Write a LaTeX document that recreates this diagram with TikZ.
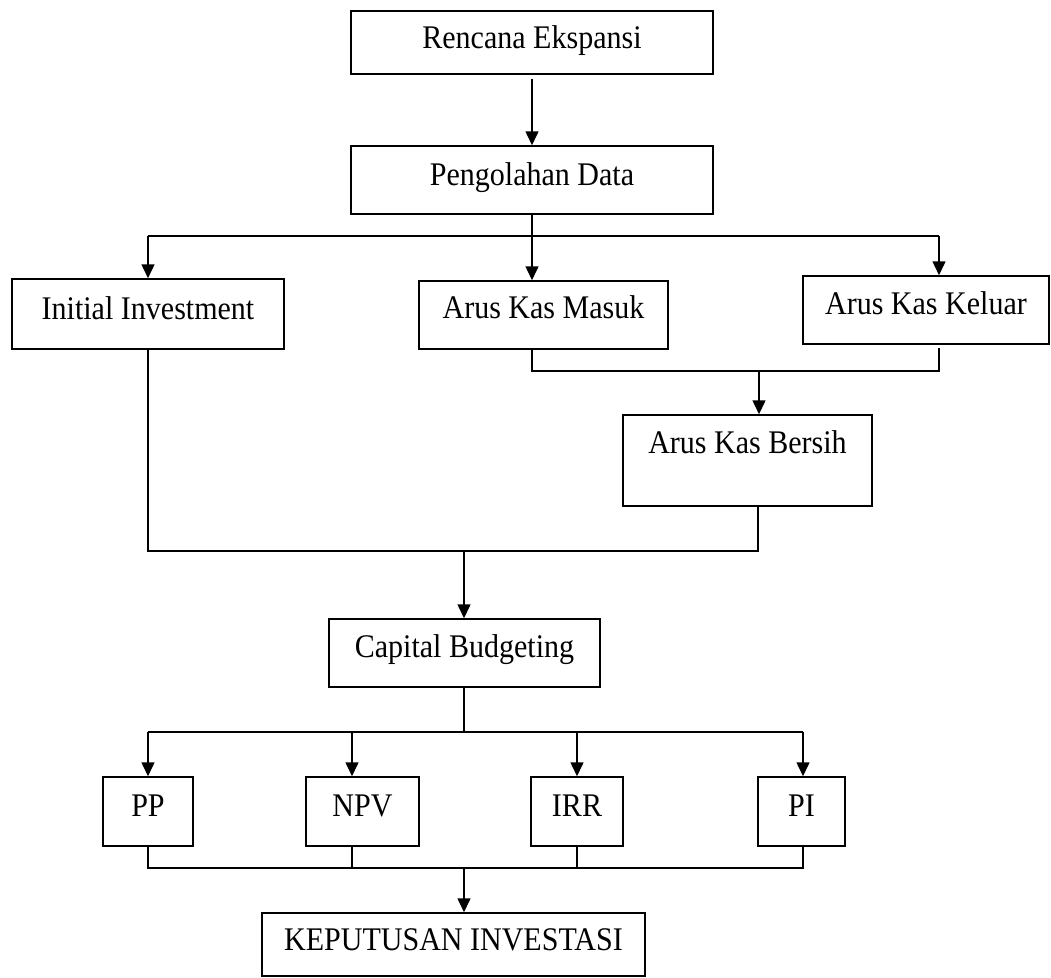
\documentclass[tikz,border=0pt]{standalone}
\usepackage{fontspec}
\setmainfont{Liberation Serif}
\newfontfamily\tallfont[FakeStretch=0.91]{Liberation Serif}
\usetikzlibrary{arrows.meta}
\begin{document}
\begin{tikzpicture}[x=1pt,y=-1pt,
  box/.style={draw, line width=1.5pt, inner sep=0pt, font=\tallfont\fontsize{33}{38}\selectfont, text height=22pt},
  conn/.style={line width=1.5pt},
  arr/.style={conn, -{Triangle[length=14pt,width=13pt]}}]
\useasboundingbox (0,0) rectangle (1051,977);
\node[box, minimum width=362pt, minimum height=63pt, text depth=11pt] (ren) at (532,42.5) {Rencana Ekspansi};
\node[box, minimum width=362pt, minimum height=68pt, text depth=12pt] (pen) at (532,180) {Pengolahan Data};
\node[box, minimum width=272pt, minimum height=70pt, text depth=12pt] (ini) at (148,314) {Initial Investment};
\node[box, minimum width=249pt, minimum height=68pt, text depth=16pt] (mas) at (543.5,315) {Arus Kas Masuk};
\node[box, minimum width=246pt, minimum height=68pt, text depth=14pt] (kel) at (926,310) {Arus Kas Keluar};
\node[box, minimum width=249pt, minimum height=91pt, text depth=37pt] (ber) at (747.5,460.5) {Arus Kas Bersih};
\node[box, minimum width=271pt, minimum height=68pt, text depth=14pt] (cap) at (464.5,653) {Capital Budgeting};
\node[box, minimum width=90pt, minimum height=69pt, text depth=13pt] (pp) at (148,811.5) {PP};
\node[box, minimum width=113pt, minimum height=69pt, text depth=13pt] (npv) at (362.5,811.5) {NPV};
\node[box, minimum width=92pt, minimum height=69pt, text depth=13pt] (irr) at (577,811.5) {IRR};
\node[box, minimum width=87pt, minimum height=69pt, text depth=13pt] (pi) at (801.5,811.5) {PI};
\node[box, minimum width=383pt, minimum height=63pt, text depth=11pt] (kep) at (453.5,944.5) {KEPUTUSAN INVESTASI};
% Rencana -> Pengolahan
\draw[arr] ([yshift=-4pt]ren.south) -- (pen.north);
% branch from Pengolahan
\coordinate (p0) at (148,236);
\coordinate (p1) at (532,236);
\coordinate (p2) at (939,236);
\draw[conn] (pen.south) -- (p1);
\draw[conn] (p0) -- (p2);
\draw[arr] (p0) -- (ini.north);
\draw[arr] (p1) -- (p1 |- mas.north);
\draw[arr] (p2) -- (p2 |- kel.north);
% merge Masuk / Keluar -> Bersih
\coordinate (m1) at (532,371);
\coordinate (m2) at (939,371);
\coordinate (m0) at (759,371);
\coordinate (kb) at (939,348);
\draw[conn] (p1 |- mas.south) -- (m1) -- (m2) -- (kb);
\draw[arr] (m0) -- (m0 |- ber.north);
% merge Initial / Bersih -> Capital
\coordinate (n0) at (148,551);
\coordinate (n1) at (758,551);
\coordinate (n2) at (464,551);
\draw[conn] (ini.south) -- (n0) -- (n1) -- (n1 |- ber.south);
\draw[arr] (n2) -- (n2 |- cap.north);
% branch from Capital
\coordinate (c0) at (148,732);
\coordinate (c1) at (464,732);
\coordinate (c2) at (352,732);
\coordinate (c3) at (577,732);
\coordinate (c4) at (803,732);
\draw[conn] (c1 |- cap.south) -- (c1);
\draw[conn] (c0) -- (c4);
\draw[arr] (c0) -- (pp.north);
\draw[arr] (c2) -- (c2 |- npv.north);
\draw[arr] (c3) -- (irr.north);
\draw[arr] (c4) -- (c4 |- pi.north);
% merge -> Keputusan
\coordinate (d0) at (148,868);
\coordinate (d1) at (464,868);
\coordinate (d2) at (352,868);
\coordinate (d3) at (577,868);
\coordinate (d4) at (803,868);
\draw[conn] (pp.south) -- (d0) -- (d4) -- (d4 |- pi.south);
\draw[conn] (d2 |- npv.south) -- (d2);
\draw[conn] (irr.south) -- (d3);
\draw[arr] (d1) -- (d1 |- kep.north);
\end{tikzpicture}
\end{document}
